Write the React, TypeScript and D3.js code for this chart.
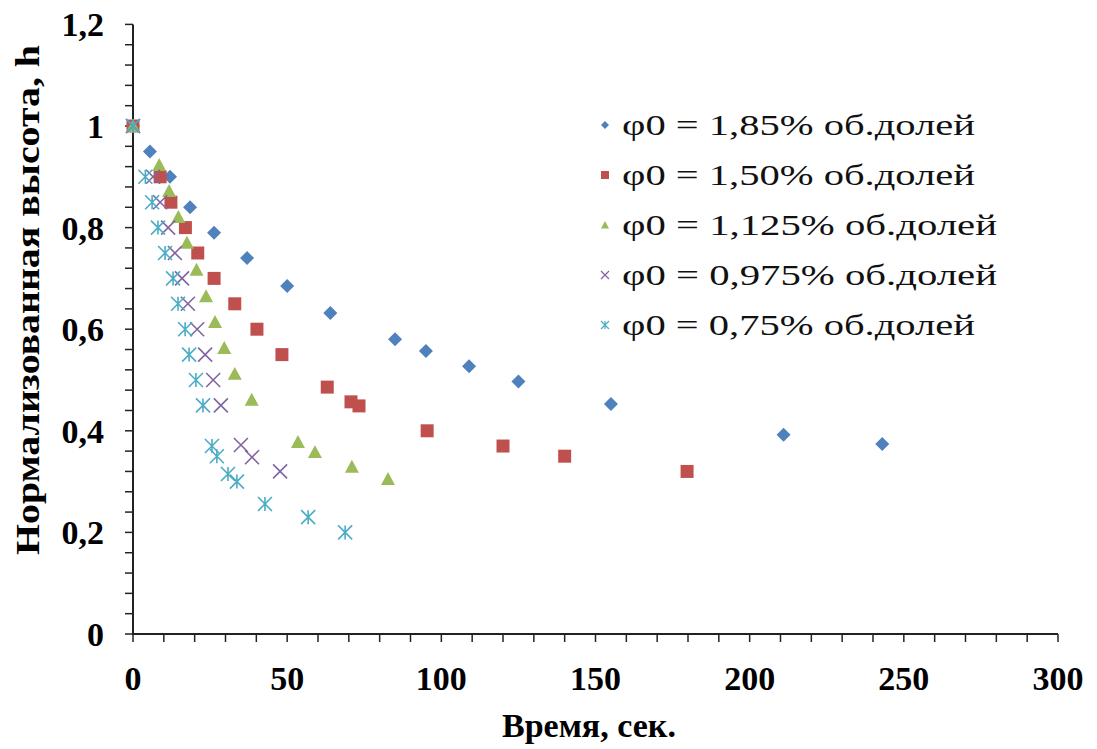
import React from "react";
import * as d3 from "d3";

const seriesNames = [
  "φ0 = 1,85% об.долей",
  "φ0 = 1,50% об.долей",
  "φ0 = 1,125% об.долей",
  "φ0 = 0,975% об.долей",
  "φ0 = 0,75% об.долей",
];

const t185 = [0, 5.5, 12, 18.5, 26.3, 37, 50, 64, 85, 95, 109, 125, 155, 211, 243];
const h185 = [1, 0.95, 0.9, 0.84, 0.79, 0.74, 0.685, 0.632, 0.58, 0.557, 0.527, 0.497, 0.453, 0.392, 0.374];

const t150 = [0, 8.8, 12.3, 17, 21, 26.3, 33, 40.2, 48.3, 63, 70.7, 73.3, 95.4, 120, 140, 179.7];
const h150 = [1, 0.9, 0.85, 0.8, 0.75, 0.7, 0.65, 0.6, 0.55, 0.486, 0.457, 0.449, 0.4, 0.37, 0.35, 0.32];

const t1125 = [0, 8.5, 11.7, 14.7, 17.5, 20.6, 23.7, 26.6, 29.6, 33, 38.5, 53.5, 59, 71, 82.7];
const h1125 = [1, 0.923, 0.872, 0.821, 0.77, 0.717, 0.665, 0.614, 0.563, 0.512, 0.461, 0.378, 0.358, 0.329, 0.305];

const t0975 = [0, 6.5, 8.8, 11.4, 13.6, 15.9, 17.8, 20.8, 23.4, 26, 28.5, 35, 38.6, 47.7];
const h0975 = [1, 0.9, 0.85, 0.8, 0.75, 0.7, 0.65, 0.6, 0.55, 0.5, 0.45, 0.372, 0.348, 0.32];

const t075 = [0, 4, 6.2, 8.1, 10.4, 13, 14.6, 16.9, 18.2, 20.4, 22.7, 25.6, 27.2, 30.8, 33.7, 42.8, 56.8, 68.8];
const h075 = [1, 0.9, 0.85, 0.8, 0.75, 0.7, 0.65, 0.6, 0.55, 0.5, 0.45, 0.37, 0.35, 0.315, 0.3, 0.256, 0.23, 0.2];

const xTicks = [0, 50, 100, 150, 200, 250, 300];
const yTicks = [0, 0.2, 0.4, 0.6, 0.8, 1, 1.2];
const yTickLabels = ["0", "0,2", "0,4", "0,6", "0,8", "1", "1,2"];

const colors = ["#4F81BD", "#C0504D", "#9BBB59", "#8064A2", "#4BACC6"];
const kinds = ["diamond", "square", "triangle", "x", "star"];

function markerPath(kind: string, s: number): string {
  const p = d3.path();
  const r = s / 2;
  if (kind === "diamond") {
    p.moveTo(0, -r); p.lineTo(r, 0); p.lineTo(0, r); p.lineTo(-r, 0); p.closePath();
  } else if (kind === "square") {
    p.rect(-r, -r, s, s);
  } else if (kind === "triangle") {
    p.moveTo(0, -r); p.lineTo(r, r * 0.85); p.lineTo(-r, r * 0.85); p.closePath();
  } else if (kind === "x") {
    p.moveTo(-r, -r); p.lineTo(r, r); p.moveTo(r, -r); p.lineTo(-r, r);
  } else {
    p.moveTo(-r, -r); p.lineTo(r, r); p.moveTo(r, -r); p.lineTo(-r, r);
    p.moveTo(0, -r); p.lineTo(0, r);
  }
  return p.toString();
}

export default function App() {
  if (typeof document !== "undefined") document.body.style.margin = "0";
  const W = 1097, H = 749;
  const x = d3.scaleLinear().domain([0, 300]).range([133, 1058]);
  const y = d3.scaleLinear().domain([0, 1.2]).range([634, 24.4]);

  const series = [
    { t: t185, h: h185 },
    { t: t150, h: h150 },
    { t: t1125, h: h1125 },
    { t: t0975, h: h0975 },
    { t: t075, h: h075 },
  ];

  const xMinor = d3.range(0, 301, 10);
  const yMinor = d3.range(0, 31).map((i) => i * 0.04);
  const serif = "Liberation Serif, Tinos, Noto Serif, DejaVu Serif, FreeSerif, Times New Roman, serif";
  const axisColor = "#222";
  const legendLen = [353, 353, 375, 375, 353];

  return (
    <svg width={W} height={H} style={{ display: "block", background: "#fff" }}>
      <line x1={x(0)} x2={x(300)} y1={y(0)} y2={y(0)} stroke={axisColor} strokeWidth={2} />
      <line x1={x(0)} x2={x(0)} y1={y(0)} y2={y(1.2)} stroke={axisColor} strokeWidth={2} />
      {xMinor.map((v) => (
        <line key={"xt" + v} x1={x(v)} x2={x(v)} y1={y(0)} y2={y(0) + 8} stroke={axisColor} strokeWidth={1.5} />
      ))}
      {yMinor.map((v, i) => (
        <line key={"yt" + i} x1={x(0) - 8} x2={x(0)} y1={y(v)} y2={y(v)} stroke={axisColor} strokeWidth={1.5} />
      ))}
      {xTicks.map((v) => (
        <text key={"xl" + v} x={x(v)} y={690} textAnchor="middle" style={{ fontFamily: serif }} fontWeight="bold" fontSize={34}>
          {v}
        </text>
      ))}
      {yTicks.map((v, i) => (
        <text key={"yl" + i} x={104} y={y(v) + 12} textAnchor="end" style={{ fontFamily: serif }} fontWeight="bold" fontSize={34}>
          {yTickLabels[i]}
        </text>
      ))}
      <text x={589} y={737} textAnchor="middle" style={{ fontFamily: serif }} fontWeight="bold" fontSize={34}>
        Время, сек.
      </text>
      <text
        transform={`translate(39,300) rotate(-90)`}
        textAnchor="middle"
        style={{ fontFamily: serif }}
        fontWeight="bold"
        fontSize={33}
        textLength={510}
        lengthAdjust="spacingAndGlyphs"
      >
        Нормализованная  высота, h
      </text>

      {series.map((s, si) => (
        <g key={"s" + si}>
          {s.t.map((tv, i) => {
            const k = kinds[si];
            const stroked = k === "x" || k === "star";
            return (
              <path
                key={i}
                transform={`translate(${x(tv)},${y(s.h[i])})`}
                d={markerPath(k, k === "square" ? 13 : 14)}
                fill={stroked ? "none" : colors[si]}
                stroke={stroked ? colors[si] : "none"}
                strokeWidth={stroked ? 1.6 : 0}
              />
            );
          })}
        </g>
      ))}

      {seriesNames.map((n, i) => {
        const cy = 125 + i * 50;
        const k = kinds[i];
        const stroked = k === "x" || k === "star";
        return (
          <g key={"lg" + i}>
            <path
              transform={`translate(605,${cy})`}
              d={markerPath(k, 8)}
              fill={stroked ? "none" : colors[i]}
              stroke={stroked ? colors[i] : "none"}
              strokeWidth={stroked ? 1.2 : 0}
            />
            <text
              x={622}
              y={cy + 10}
              style={{ fontFamily: serif }}
              fontSize={29}
              fill="#111"
              textLength={legendLen[i]}
              lengthAdjust="spacingAndGlyphs"
            >
              {n}
            </text>
          </g>
        );
      })}
    </svg>
  );
}
